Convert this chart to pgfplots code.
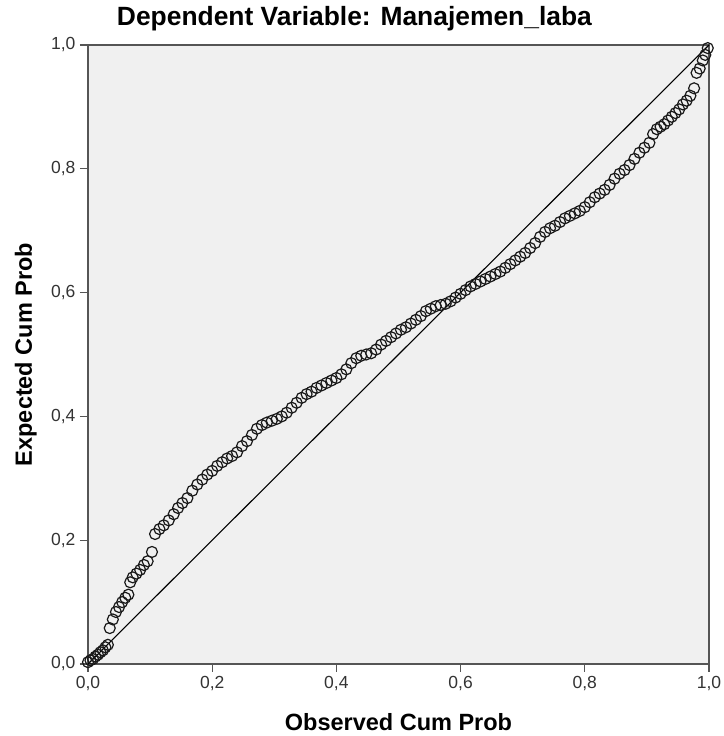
\documentclass[border=0pt]{standalone}
\usepackage{pgfplots}
\pgfplotsset{compat=1.18}
\usepackage{fontspec}
\setmainfont{Liberation Sans}
\definecolor{bg}{HTML}{F0F0F0}
\definecolor{frame}{HTML}{555555}
\begin{document}
\begin{tikzpicture}
\useasboundingbox (-88pt,-72pt) rectangle (635pt,664pt);
\begin{axis}[
  at={(0,0)}, anchor=origin,
  scale only axis, width=621pt, height=619pt,
  xmin=0, xmax=1, ymin=0, ymax=1,
  axis background/.style={fill=bg},
  axis line style={frame, line width=1.6pt},
  xtick={0,0.2,0.4,0.6,0.8,1}, ytick={0,0.2,0.4,0.6,0.8,1},
  xticklabels={0{,}0,0{,}2,0{,}4,0{,}6,0{,}8,1{,}0},
  yticklabels={0{,}0,0{,}2,0{,}4,0{,}6,0{,}8,1{,}0},
  tick align=outside, tick pos=left,
  major tick length=8pt,
  tick style={frame, line width=1.2pt},
  ticklabel style={font=\fontsize{17.5}{19}\selectfont, text=black!80},
  xticklabel style={anchor=north, yshift=-1pt},
  yticklabel style={anchor=east, xshift=-1pt},
  title={\textbf{Dependent Variable: Manajemen\_laba}},
  title style={font=\fontsize{26.4}{28}\selectfont, at={(0.5,1)}, anchor=base, yshift=13pt, xshift=-44pt},
  xlabel={\textbf{Observed Cum Prob}},
  ylabel={\textbf{Expected Cum Prob}},
  label style={font=\fontsize{23.5}{26}\selectfont},
  xlabel style={at={(0.5,0)}, anchor=base, yshift=-66pt},
  ylabel style={at={(0,0.5)}, anchor=base, yshift=56pt},
  clip=false,
]
\addplot[black, line width=1.1pt, no markers] coordinates {(0,0) (1,1)};
\addplot[only marks, mark=o, mark size=5.5pt, mark options={draw=black!90, line width=1.2pt}] coordinates {
(0.000,0.003) (0.004,0.006) (0.008,0.008) (0.012,0.012) (0.016,0.015) (0.020,0.019)
(0.024,0.022) (0.028,0.027) (0.032,0.031) (0.035,0.058) (0.040,0.072) (0.045,0.084)
(0.050,0.092) (0.055,0.100) (0.060,0.107) (0.065,0.112) (0.068,0.132) (0.072,0.140)
(0.078,0.146) (0.084,0.152) (0.090,0.160) (0.096,0.166) (0.103,0.181) (0.108,0.210)
(0.115,0.218) (0.122,0.224) (0.130,0.232) (0.138,0.242) (0.145,0.252) (0.152,0.260)
(0.160,0.268) (0.168,0.280) (0.176,0.290) (0.184,0.298) (0.192,0.306) (0.200,0.312)
(0.208,0.320) (0.216,0.326) (0.224,0.332) (0.232,0.336) (0.240,0.342) (0.248,0.352)
(0.256,0.360) (0.264,0.370) (0.272,0.380) (0.280,0.386) (0.288,0.390) (0.296,0.393)
(0.304,0.396) (0.312,0.400) (0.320,0.406) (0.328,0.414) (0.336,0.422) (0.344,0.430)
(0.352,0.436) (0.360,0.440) (0.368,0.446) (0.376,0.450) (0.384,0.454) (0.392,0.458)
(0.400,0.462) (0.408,0.468) (0.416,0.476) (0.424,0.486) (0.432,0.494) (0.440,0.498)
(0.448,0.500) (0.456,0.502) (0.464,0.508) (0.472,0.516) (0.480,0.522) (0.488,0.528)
(0.496,0.534) (0.504,0.540) (0.512,0.544) (0.520,0.550) (0.528,0.556) (0.536,0.562)
(0.544,0.570) (0.552,0.574) (0.560,0.578) (0.568,0.580) (0.576,0.582) (0.584,0.586)
(0.592,0.592) (0.600,0.598) (0.608,0.604) (0.616,0.610) (0.624,0.614) (0.632,0.618)
(0.640,0.622) (0.648,0.626) (0.656,0.630) (0.664,0.634) (0.672,0.640) (0.680,0.646)
(0.688,0.652) (0.696,0.658) (0.704,0.664) (0.712,0.672) (0.720,0.680) (0.728,0.690)
(0.736,0.698) (0.744,0.704) (0.752,0.708) (0.760,0.714) (0.768,0.720) (0.776,0.724)
(0.784,0.728) (0.792,0.732) (0.800,0.738) (0.808,0.746) (0.816,0.754) (0.824,0.760)
(0.832,0.766) (0.840,0.774) (0.848,0.784) (0.856,0.792) (0.864,0.798) (0.872,0.806)
(0.880,0.816) (0.888,0.826) (0.896,0.834) (0.904,0.842) (0.910,0.856) (0.916,0.864)
(0.922,0.868) (0.928,0.872) (0.934,0.878) (0.940,0.884) (0.946,0.890) (0.952,0.896)
(0.958,0.904) (0.964,0.910) (0.970,0.918) (0.976,0.930) (0.980,0.955) (0.985,0.962)
(0.990,0.975) (0.994,0.984) (0.998,0.995)
};
\end{axis}
\end{tikzpicture}
\end{document}
